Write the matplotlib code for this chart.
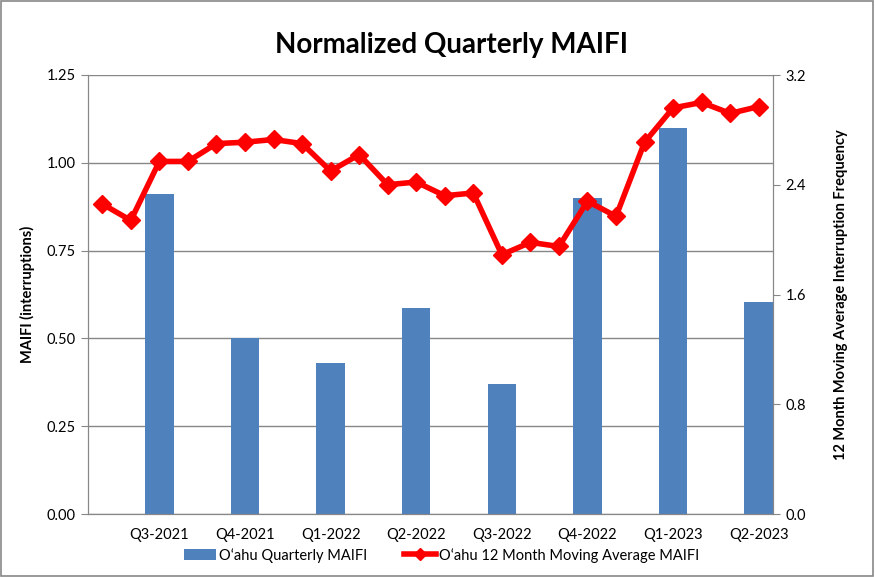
import numpy as np
import matplotlib.pyplot as plt
from matplotlib.patches import Rectangle

plt.rcParams['font.family'] = ['Lato', 'DejaVu Sans']

# quarterly bars (left axis)
quarters = ["Q3-2021", "Q4-2021", "Q1-2022", "Q2-2022",
            "Q3-2022", "Q4-2022", "Q1-2023", "Q2-2023"]
quarterly_maifi = [0.91, 0.50, 0.43, 0.587, 0.37, 0.90, 1.10, 0.604]

# monthly 12-month moving average (right axis)
moving_avg = [2.26, 2.14, 2.57, 2.57, 2.70, 2.71, 2.73, 2.70,
              2.50, 2.62, 2.40, 2.42, 2.32, 2.34, 1.89, 1.98,
              1.95, 2.28, 2.17, 2.71, 2.96, 3.00, 2.92, 2.97]

grid_col = "#878787"
bar_col = "#4f81bd"

fig = plt.figure(figsize=(8.75, 5.77), dpi=100)
ax = fig.add_axes([88 / 875, 63 / 577, 685 / 875, 439 / 577])
ax2 = ax.twinx()

months = np.arange(len(moving_avg))
bar_pos = months[2::3]

b = ax.bar(bar_pos, quarterly_maifi, width=1.0, color=bar_col, zorder=2,
           label="O\u2018ahu Quarterly MAIFI")
ln, = ax2.plot(months, moving_avg, color="#ff0000", lw=4, marker="D",
               markersize=9, zorder=3, label="O\u2018ahu 12 Month Moving Average MAIFI")

ax.set_xlim(-0.5, len(moving_avg) - 0.5)
ax.set_ylim(0, 1.25)
ax.set_yticks([0, 0.25, 0.5, 0.75, 1.0, 1.25])
ax.set_yticklabels([f"{v:.2f}" for v in [0, 0.25, 0.5, 0.75, 1.0, 1.25]])
ax.set_xticks(bar_pos)
ax.set_xticklabels(quarters)
ax.tick_params(axis="x", length=0, pad=10, labelsize=10.5)
ax.tick_params(axis="y", length=5, color=grid_col, labelsize=10.5, pad=4)
ax.yaxis.grid(True, color=grid_col, lw=1)
ax.set_axisbelow(True)

ax2.set_ylim(0, 3.2)
ax2.set_yticks([0, 0.8, 1.6, 2.4, 3.2])
ax2.set_yticklabels([f"{v:.1f}" for v in [0, 0.8, 1.6, 2.4, 3.2]])
ax2.tick_params(axis="y", length=5, color=grid_col, labelsize=10.5, pad=4)

for a in (ax, ax2):
    for s in a.spines.values():
        s.set_color(grid_col)
    a.spines["top"].set_visible(False)
ax2.patch.set_visible(False)
ax2.set_zorder(1)
ax.set_zorder(0)

ax.set_ylabel("MAIFI (interruptions)", fontsize=10.5, fontweight="bold", labelpad=8)
ax2.set_ylabel("12 Month Moving Average Interruption Frequency", fontsize=10.5,
               fontweight="bold", labelpad=20)

fig.text(0.516, 0.922, "Normalized Quarterly MAIFI", ha="center", va="center",
         fontsize=20, fontweight="bold")

fig.legend([b, ln], [b.get_label(), ln.get_label()], loc="center",
           bbox_to_anchor=(0.505, 0.038), ncol=2, frameon=False, fontsize=10.5,
           handlelength=2.2, columnspacing=2.5, handletextpad=0.2, markerscale=0.7,
           borderpad=0.1)

fig.add_artist(Rectangle((0.001, 0.001), 0.997, 0.997, transform=fig.transFigure,
                         fill=False, edgecolor=grid_col, lw=1.2))

fig.savefig("out.png", dpi=100)
